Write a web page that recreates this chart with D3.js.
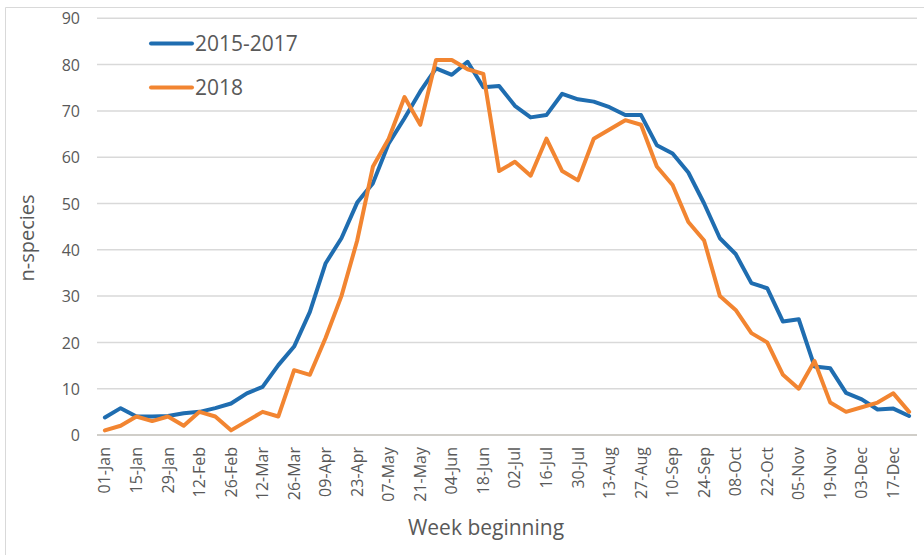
<!DOCTYPE html>
<html><head><meta charset="utf-8">
<script src="https://cdn.jsdelivr.net/npm/d3@7/dist/d3.min.js"></script>
<style>body{margin:0;background:#fff}svg{display:block}text{font-family:"Open Sans",sans-serif;fill:#595959}</style>
</head><body>
<script>
const weeks = ["01-Jan","08-Jan","15-Jan","22-Jan","29-Jan","05-Feb","12-Feb","19-Feb","26-Feb","05-Mar","12-Mar","19-Mar","26-Mar","02-Apr","09-Apr","16-Apr","23-Apr","30-Apr","07-May","14-May","21-May","28-May","04-Jun","11-Jun","18-Jun","25-Jun","02-Jul","09-Jul","16-Jul","23-Jul","30-Jul","06-Aug","13-Aug","20-Aug","27-Aug","03-Sep","10-Sep","17-Sep","24-Sep","01-Oct","08-Oct","15-Oct","22-Oct","29-Oct","05-Nov","12-Nov","19-Nov","26-Nov","03-Dec","10-Dec","17-Dec","24-Dec"];
const avg2015_2017 = [3.8,5.8,4,4,4.1,4.7,5,5.8,6.8,9,10.4,15.1,19.1,26.6,37.1,42.5,50.2,54.4,63,68.4,74.2,79.2,77.8,80.6,75.1,75.4,71.1,68.6,69.1,73.7,72.5,72,70.8,69.1,69.1,62.6,60.8,56.7,50,42.5,39.1,32.8,31.7,24.5,25,14.8,14.4,9.1,7.7,5.5,5.7,4.1];
const y2018 = [1,2,4,3,4,2,5,4,1,3,5,4,14,13,21,30,42,58,64,73,67,81,81,79,78,57,59,56,64,57,55,64,66,68,67,58,54,46,42,30,27,22,20,13,10,16,7,5,6,7,9,5];
const yTicks = [0,10,20,30,40,50,60,70,80,90];
const seriesNames = ["2015-2017","2018"];
const colors = ["#1f6db0","#f28531"];

const W=924,H=555;
const svg=d3.select("body").append("svg").attr("width",W).attr("height",H);
svg.append("path").attr("d",`M5.5,${H}V7.5H${W}`).attr("fill","none").attr("stroke","#d9d9d9").attr("stroke-width",1);

const x=d3.scaleBand().domain(weeks).range([97,917]);
const y=d3.scaleLinear().domain([0,90]).range([435,18.3]);
const cx=d=>x(d)+x.bandwidth()/2;

// gridlines
svg.append("g").selectAll("line").data(yTicks).join("line")
  .attr("x1",97).attr("x2",917).attr("y1",d=>y(d)).attr("y2",d=>y(d))
  .attr("stroke",d=>d===0?"#d0cec9":"#d9d9d9").attr("stroke-width",d=>d===0?2:1.5);

// y axis labels
const yAxis=d3.axisLeft(y).tickValues(yTicks).tickSize(0).tickPadding(0);
const gy=svg.append("g").attr("transform","translate(80,0)").call(yAxis);
gy.select(".domain").remove();
gy.selectAll("text").attr("font-size",16).attr("font-family","Open Sans").attr("fill","#595959").attr("dy","0.35em");

// x axis labels
const xAxis=d3.axisBottom(x).tickValues(weeks.filter((d,i)=>i%2===0)).tickSize(0).tickPadding(0);
const gx=svg.append("g").attr("transform","translate(0,435)").call(xAxis);
gx.select(".domain").remove();
gx.selectAll("text").attr("font-size",16).attr("font-family","Open Sans").attr("fill","#595959")
  .attr("transform","rotate(-90)").attr("text-anchor","end").attr("x",-12).attr("y",0).attr("dy","0.35em");

// lines
const line=d3.line().x((d,i)=>cx(weeks[i])).y(d=>y(d));
[avg2015_2017,y2018].forEach((s,k)=>{
  svg.append("path").datum(s).attr("d",line).attr("fill","none").attr("stroke",colors[k])
    .attr("stroke-width",4).attr("stroke-linejoin","round").attr("stroke-linecap","round");
});

// legend
seriesNames.forEach((n,k)=>{
  const ly=43.5+k*44;
  svg.append("line").attr("x1",151).attr("x2",192).attr("y1",ly).attr("y2",ly)
    .attr("stroke",colors[k]).attr("stroke-width",4).attr("stroke-linecap","round");
  svg.append("text").attr("x",195).attr("y",ly+7.5).attr("font-size",21).text(n);
});

// axis titles
svg.append("text").attr("transform","translate(34,238) rotate(-90)").attr("text-anchor","middle").attr("font-size",20).text("n-species");
svg.append("text").attr("x",486).attr("y",535).attr("text-anchor","middle").attr("font-size",21).text("Week beginning");
</script>
</body></html>
